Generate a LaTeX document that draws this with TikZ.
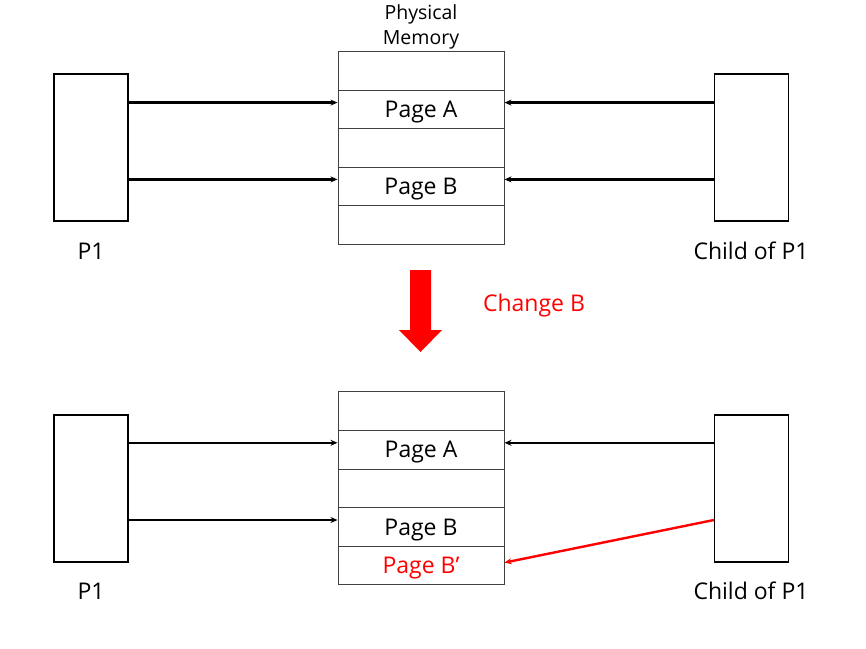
\documentclass[tikz,border=0pt]{standalone}
\usepackage{fontspec}
\setmainfont{Open Sans}
\usetikzlibrary{arrows.meta}
\begin{document}
\begin{tikzpicture}[x=1pt,y=-1pt,
  procbox/.style={draw=black,line width=1.3pt,minimum width=74pt,minimum height=147pt,inner sep=0pt},
  cell/.style={draw=black!75,line width=1pt,minimum width=166pt,minimum height=38.5pt,inner sep=0pt,text height=16pt,text depth=0pt,font=\fontsize{23}{26}\selectfont},
  lbl/.style={font=\fontsize{23}{26}\selectfont,inner sep=0pt},
  ptr/.style={line width=2.4pt,-{Stealth[length=7pt,width=6pt]}},
  redptr/.style={ptr,draw=red,-{Stealth[length=7pt,width=6pt]}}]
\useasboundingbox (0,0) rectangle (866,648);
% Top
\node[lbl,align=center,font=\fontsize{19.5}{25}\selectfont] (title) at (421,27) {Physical\\Memory};
\foreach \i/\t in {0/,1/Page A,2/,3/Page B,4/}{
  \node[cell] (t\i) at (421,71.2+38.4*\i) {\t};
}
\node[procbox] (p1) at (91,147.5) {};
\node[procbox] (c1) at (751.5,147.5) {};
\node[lbl] (p1l) at (91,251) {P1};
\node[lbl] (c1l) at (751,251) {Child of P1};
\draw[ptr] ([yshift=7pt]p1.east |- t1) -- ([yshift=7pt]t1.west);
\draw[ptr] ([yshift=7pt]p1.east |- t3) -- ([yshift=7pt]t3.west);
\draw[ptr] ([yshift=7pt]c1.west |- t1) -- ([yshift=7pt]t1.east);
\draw[ptr] ([yshift=7pt]c1.west |- t3) -- ([yshift=7pt]t3.east);
% Big arrow
\fill[red] (410,270) -- (431,270) -- (431,330) -- (442,330) -- (420.5,352) -- (399,330) -- (410,330) -- cycle;
\node[lbl,text=red] (chg) at (534,306) {Change B};
% Bottom
\foreach \i/\t in {0/,1/Page A,2/,3/Page B}{
  \node[cell] (b\i) at (421,411.2+38.6*\i) {\t};
}
\node[cell,text=red] (b4) at (421,411.2+38.6*4) {Page B’};
\node[procbox] (p2) at (91,488.5) {};
\node[procbox] (c2) at (751.5,488.5) {};
\node[lbl] (p2l) at (91,591) {P1};
\node[lbl] (c2l) at (751,591) {Child of P1};
\draw[ptr] ([yshift=7pt]p2.east |- b1) -- ([yshift=7pt]b1.west);
\draw[ptr] ([yshift=7pt]p2.east |- b3) -- ([yshift=7pt]b3.west);
\draw[ptr] ([yshift=7pt]c2.west |- b1) -- ([yshift=7pt]b1.east);
\coordinate (cr) at ([yshift=7pt]c2.west |- b3);
\draw[redptr] (cr) -- ([yshift=3pt]b4.east);
\end{tikzpicture}
\end{document}
